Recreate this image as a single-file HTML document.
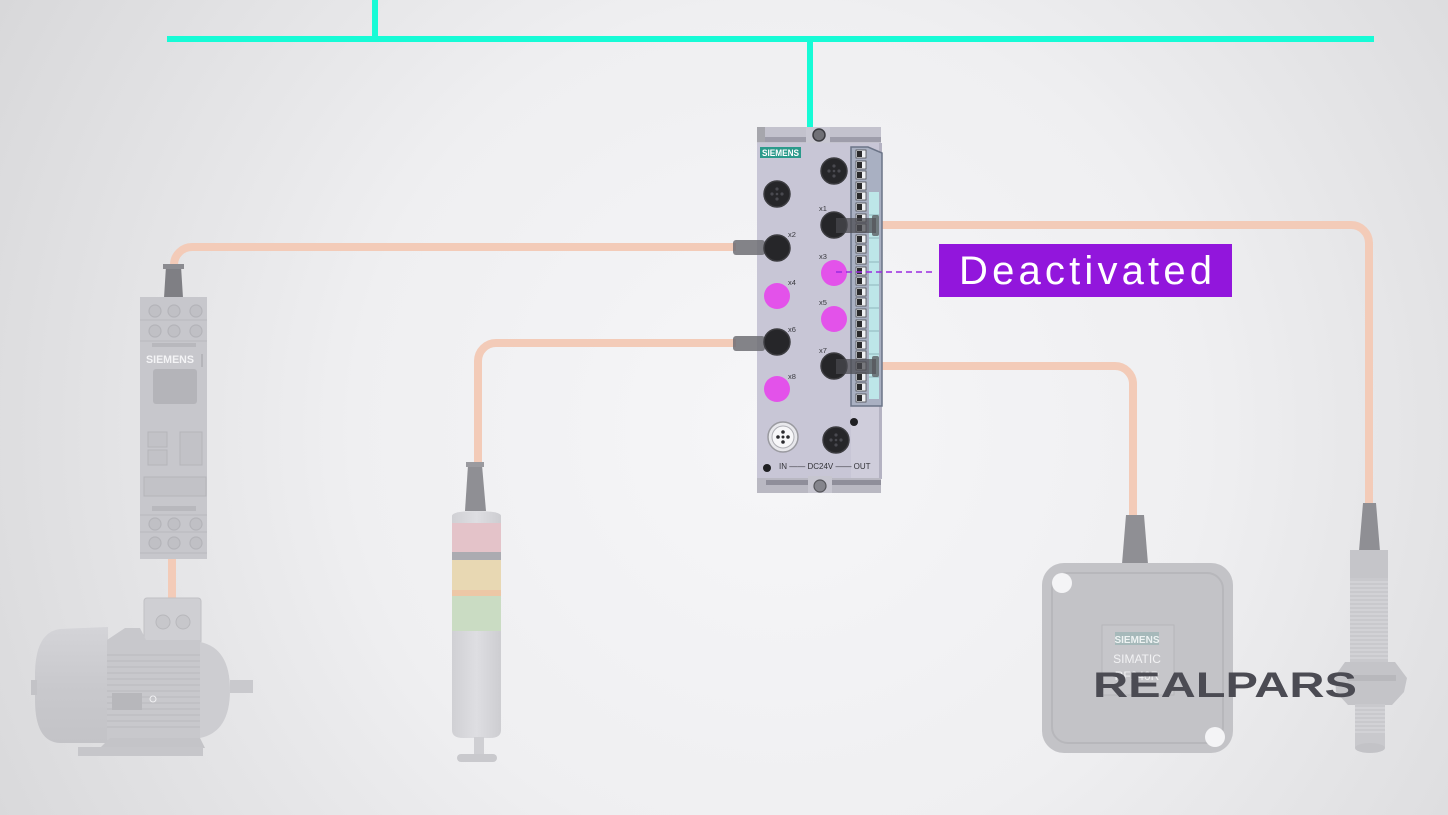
<!DOCTYPE html>
<html><head><meta charset="utf-8"><style>
html,body{margin:0;padding:0;width:1448px;height:815px;overflow:hidden;background:#e8e8ea}
svg{display:block}
text{font-family:"Liberation Sans",sans-serif}
</style></head><body>
<svg width="1448" height="815" viewBox="0 0 1448 815" xmlns="http://www.w3.org/2000/svg">
<defs>
<radialGradient id="bg" gradientUnits="userSpaceOnUse" cx="780" cy="430" r="950">
<stop offset="0" stop-color="#f6f6f8"/>
<stop offset="0.45" stop-color="#efeff1"/>
<stop offset="1" stop-color="#d5d5d7"/>
</radialGradient>
<linearGradient id="motorG" x1="0" y1="0" x2="0" y2="1">
<stop offset="0" stop-color="#d4d4d8"/><stop offset="0.5" stop-color="#c9c9cd"/><stop offset="1" stop-color="#c3c3c7"/>
</linearGradient>
<linearGradient id="colG" x1="0" y1="0" x2="1" y2="0">
<stop offset="0" stop-color="#d0d0d4"/><stop offset="0.5" stop-color="#dedee2"/><stop offset="1" stop-color="#cdcdd1"/>
</linearGradient>
</defs>
<rect width="1448" height="815" fill="url(#bg)"/>

<!-- teal bus -->
<rect x="167" y="36" width="1207" height="6" fill="#17fbd6"/>
<rect x="372" y="0" width="6" height="40" fill="#17fbd6"/>
<rect x="807" y="40" width="6" height="92" fill="#17fbd6"/>

<!-- cables -->
<g fill="none" stroke="#f3cbb8" stroke-width="8">
<path d="M736 247 H192 A18 18 0 0 0 174 265 V270"/>
<path d="M736 343 H496 A18 18 0 0 0 478 361 V466"/>
<path d="M876 225 H1351 A18 18 0 0 1 1369 243 V506"/>
<path d="M876 366 H1115 A18 18 0 0 1 1133 384 V518"/>
<path d="M172 556 V602"/>
</g>

<!-- ===== Motor starter ===== -->
<polygon points="166,266 181,266 183,298 164,298" fill="#7f7f84"/>
<rect x="163" y="264" width="21" height="5" fill="#8b8b90"/>
<rect x="140" y="297" width="67" height="262" fill="#c7c7cc"/>
<g stroke="#b9b9be" stroke-width="1" fill="none">
<line x1="140" y1="320" x2="207" y2="320"/>
<line x1="140" y1="341" x2="207" y2="341"/>
<line x1="140" y1="515" x2="207" y2="515"/>
<line x1="140" y1="532" x2="207" y2="532"/>
<line x1="140" y1="553" x2="207" y2="553"/>
</g>
<g fill="#c0c0c5" stroke="#b4b4b9" stroke-width="1.2">
<circle cx="155" cy="311" r="6"/><circle cx="174" cy="311" r="6"/><circle cx="196" cy="311" r="6"/>
<circle cx="155" cy="331" r="6"/><circle cx="174" cy="331" r="6"/><circle cx="196" cy="331" r="6"/>
<circle cx="155" cy="524" r="6"/><circle cx="174" cy="524" r="6"/><circle cx="196" cy="524" r="6"/>
<circle cx="155" cy="543" r="6"/><circle cx="174" cy="543" r="6"/><circle cx="196" cy="543" r="6"/>
</g>
<rect x="152" y="343" width="44" height="4" fill="#b8b8bd"/>
<text x="146" y="363" font-size="11" font-weight="bold" fill="#f4f4f6" textLength="48" lengthAdjust="spacingAndGlyphs">SIEMENS</text>
<rect x="201" y="354" width="2" height="13" fill="#b5b5ba"/>
<rect x="153" y="369" width="44" height="35" rx="3" fill="#b4b4b9"/>
<g fill="#c2c2c7" stroke="#b5b5ba" stroke-width="1">
<rect x="148" y="432" width="19" height="15"/>
<rect x="148" y="450" width="19" height="15"/>
<rect x="180" y="432" width="22" height="33"/>
<rect x="144" y="477" width="62" height="19"/>
</g>
<rect x="152" y="506" width="44" height="5" fill="#b8b8bd"/>

<!-- ===== Motor ===== -->
<rect x="144" y="598" width="57" height="46" rx="3" fill="#cfcfd3" stroke="#c0c0c4"/>
<circle cx="163" cy="622" r="7" fill="#c7c7cb" stroke="#b8b8bc"/>
<circle cx="183" cy="622" r="7" fill="#c7c7cb" stroke="#b8b8bc"/>
<path d="M60 629 L108 627 L108 743 L60 743 Q35 742 35 700 L35 672 Q36 632 60 629Z" fill="url(#motorG)"/>
<rect x="31" y="680" width="6" height="15" fill="#c3c3c7"/>
<path d="M107 640 L125 628 L140 628 L146 640 L200 640 L200 740 L107 740 Z" fill="#c8c8cc"/>
<path d="M200 642 Q230 648 230 690 Q230 732 200 738 Z" fill="#cdcdd1"/>
<rect x="230" y="680" width="23" height="13" fill="#c9c9cd"/>
<g stroke="#bababe" stroke-width="1">
<line x1="107" y1="655" x2="200" y2="655"/><line x1="107" y1="661" x2="200" y2="661"/>
<line x1="107" y1="667" x2="200" y2="667"/><line x1="107" y1="673" x2="200" y2="673"/>
<line x1="107" y1="679" x2="200" y2="679"/><line x1="107" y1="685" x2="200" y2="685"/>
<line x1="107" y1="691" x2="200" y2="691"/><line x1="107" y1="697" x2="200" y2="697"/>
<line x1="107" y1="703" x2="200" y2="703"/><line x1="107" y1="709" x2="200" y2="709"/>
<line x1="107" y1="715" x2="200" y2="715"/><line x1="107" y1="721" x2="200" y2="721"/>
<line x1="107" y1="727" x2="200" y2="727"/>
</g>
<rect x="112" y="693" width="30" height="17" fill="#b7b7bb"/>
<circle cx="153" cy="699" r="3" fill="none" stroke="#f0f0f2"/>
<polygon points="110,738 200,738 205,748 100,748" fill="#c4c4c8"/>
<rect x="78" y="747" width="125" height="9" fill="#c6c6ca"/>

<!-- ===== Stack light ===== -->
<polygon points="468,465 482,465 486,511 465,511" fill="#8f8f94"/>
<rect x="466" y="462" width="18" height="5" fill="#9a9a9f"/>
<path d="M452 516 Q452 511 476 511 Q501 511 501 516 L501 730 Q501 738 490 738 L463 738 Q452 738 452 730 Z" fill="url(#colG)"/>
<rect x="452" y="523" width="49" height="30" fill="#e4c3c9"/>
<rect x="452" y="552" width="49" height="8" fill="#ababb1"/>
<rect x="452" y="560" width="49" height="36" fill="#e8d8b3"/>
<rect x="452" y="590" width="49" height="6" fill="#edc7a6"/>
<rect x="452" y="596" width="49" height="35" fill="#cadcc3"/>
<rect x="474" y="737" width="10" height="19" fill="#cfcfd3"/>
<rect x="457" y="754" width="40" height="8" rx="4" fill="#c9c9cd"/>

<!-- ===== RFID reader ===== -->
<polygon points="1126,515 1144,515 1148,564 1122,564" fill="#8f8f94"/>
<rect x="1042" y="563" width="191" height="190" rx="22" fill="#c3c3c7"/>
<rect x="1052" y="573" width="171" height="170" rx="16" fill="none" stroke="#b7b7bb" stroke-width="2"/>
<circle cx="1062" cy="583" r="10" fill="#f4f4f6"/>
<circle cx="1215" cy="737" r="10" fill="#f4f4f6"/>
<rect x="1102" y="625" width="72" height="70" fill="#c6c6ca" stroke="#b6b6ba"/>
<rect x="1115" y="632" width="44" height="13" fill="#a6b9ba"/>
<text x="1137" y="643" font-size="10" font-weight="bold" fill="#eef3f3" text-anchor="middle">SIEMENS</text>
<text x="1137" y="663" font-size="12" fill="#f2f2f4" text-anchor="middle">SIMATIC</text>
<text x="1137" y="680" font-size="12" fill="#f2f2f4" text-anchor="middle">RF240R</text>

<!-- ===== Sensor ===== -->
<polygon points="1363,503 1376,503 1380,551 1359,551" fill="#8f8f94"/>
<rect x="1350" y="550" width="38" height="30" fill="#c5c5c9"/>
<rect x="1350" y="578" width="38" height="86" fill="#c9c9cd"/>
<g stroke="#dcdce0" stroke-width="1">
<line x1="1350" y1="582" x2="1388" y2="582"/><line x1="1350" y1="586" x2="1388" y2="586"/>
<line x1="1350" y1="590" x2="1388" y2="590"/><line x1="1350" y1="594" x2="1388" y2="594"/>
<line x1="1350" y1="598" x2="1388" y2="598"/><line x1="1350" y1="602" x2="1388" y2="602"/>
<line x1="1350" y1="606" x2="1388" y2="606"/><line x1="1350" y1="610" x2="1388" y2="610"/>
<line x1="1350" y1="614" x2="1388" y2="614"/><line x1="1350" y1="618" x2="1388" y2="618"/>
<line x1="1350" y1="622" x2="1388" y2="622"/><line x1="1350" y1="626" x2="1388" y2="626"/>
<line x1="1350" y1="630" x2="1388" y2="630"/><line x1="1350" y1="634" x2="1388" y2="634"/>
<line x1="1350" y1="638" x2="1388" y2="638"/><line x1="1350" y1="642" x2="1388" y2="642"/>
<line x1="1350" y1="646" x2="1388" y2="646"/><line x1="1350" y1="650" x2="1388" y2="650"/>
<line x1="1350" y1="654" x2="1388" y2="654"/><line x1="1350" y1="658" x2="1388" y2="658"/>
</g>
<polygon points="1345,662 1395,662 1407,678 1404,692 1392,705 1348,705 1336,692 1335,676" fill="#c4c4c8"/>
<rect x="1348" y="675" width="48" height="6" fill="#b8b8bc"/>
<rect x="1355" y="704" width="30" height="44" fill="#c9c9cd"/>
<g stroke="#dcdce0" stroke-width="1">
<line x1="1355" y1="708" x2="1385" y2="708"/><line x1="1355" y1="712" x2="1385" y2="712"/>
<line x1="1355" y1="716" x2="1385" y2="716"/><line x1="1355" y1="720" x2="1385" y2="720"/>
<line x1="1355" y1="724" x2="1385" y2="724"/><line x1="1355" y1="728" x2="1385" y2="728"/>
<line x1="1355" y1="732" x2="1385" y2="732"/>
</g>
<ellipse cx="1370" cy="748" rx="15" ry="5" fill="#c3c3c7"/>

<!-- REALPARS logo -->
<text x="1093" y="697" font-size="35" font-weight="bold" fill="#4b4b53" textLength="264" lengthAdjust="spacingAndGlyphs">REALPARS</text>

<!-- ===== IO module ===== -->
<rect x="757" y="127" width="124" height="20" fill="#c3c2cd"/>
<rect x="757" y="127" width="8" height="15" fill="#a6a6ac"/>
<rect x="765" y="137" width="116" height="5" fill="#9e9daa"/>
<rect x="806" y="127" width="24" height="18" fill="#c9c8d3"/>
<circle cx="819" cy="135" r="6" fill="#707076" stroke="#3b3b40" stroke-width="1.5"/>
<rect x="757" y="143" width="125" height="336" fill="#c8c6d6"/>
<rect x="851" y="405" width="31" height="74" fill="#cfcddb"/>
<rect x="879" y="143" width="3" height="336" fill="#b4b2c2"/>
<rect x="760" y="147" width="41" height="11" fill="#2b9a8b"/>
<text x="762" y="156" font-size="9" font-weight="bold" fill="#ffffff" textLength="37" lengthAdjust="spacingAndGlyphs">SIEMENS</text>

<!-- terminal strip -->
<polygon points="851,147 868,147 882,153 882,406 851,406" fill="#a9b0c2" stroke="#6b7487" stroke-width="1.5"/>
<rect x="869" y="192" width="10" height="207" fill="#bde6e8"/>
<g stroke="#8fb7bb" stroke-width="1">
<line x1="869" y1="215" x2="879" y2="215"/><line x1="869" y1="238" x2="879" y2="238"/>
<line x1="869" y1="262" x2="879" y2="262"/><line x1="869" y1="285" x2="879" y2="285"/>
<line x1="869" y1="308" x2="879" y2="308"/><line x1="869" y1="331" x2="879" y2="331"/>
<line x1="869" y1="354" x2="879" y2="354"/><line x1="869" y1="377" x2="879" y2="377"/>
</g>
<g fill="#eef0f3" stroke="#4a4a50" stroke-width="0.8">
<rect x="856" y="150" width="10" height="8"/><rect x="856" y="161" width="10" height="8"/>
<rect x="856" y="171" width="10" height="8"/><rect x="856" y="182" width="10" height="8"/>
<rect x="856" y="192" width="10" height="8"/><rect x="856" y="203" width="10" height="8"/>
<rect x="856" y="214" width="10" height="8"/><rect x="856" y="224" width="10" height="8"/>
<rect x="856" y="235" width="10" height="8"/><rect x="856" y="245" width="10" height="8"/>
<rect x="856" y="256" width="10" height="8"/><rect x="856" y="267" width="10" height="8"/>
<rect x="856" y="277" width="10" height="8"/><rect x="856" y="288" width="10" height="8"/>
<rect x="856" y="298" width="10" height="8"/><rect x="856" y="309" width="10" height="8"/>
<rect x="856" y="320" width="10" height="8"/><rect x="856" y="330" width="10" height="8"/>
<rect x="856" y="341" width="10" height="8"/><rect x="856" y="351" width="10" height="8"/>
<rect x="856" y="362" width="10" height="8"/><rect x="856" y="373" width="10" height="8"/>
<rect x="856" y="383" width="10" height="8"/><rect x="856" y="394" width="10" height="8"/>
</g>
<g fill="#2a2a2c">
<rect x="857" y="151" width="5" height="6"/><rect x="857" y="162" width="5" height="6"/>
<rect x="857" y="172" width="5" height="6"/><rect x="857" y="183" width="5" height="6"/>
<rect x="857" y="193" width="5" height="6"/><rect x="857" y="204" width="5" height="6"/>
<rect x="857" y="215" width="5" height="6"/><rect x="857" y="225" width="5" height="6"/>
<rect x="857" y="236" width="5" height="6"/><rect x="857" y="246" width="5" height="6"/>
<rect x="857" y="257" width="5" height="6"/><rect x="857" y="268" width="5" height="6"/>
<rect x="857" y="278" width="5" height="6"/><rect x="857" y="289" width="5" height="6"/>
<rect x="857" y="299" width="5" height="6"/><rect x="857" y="310" width="5" height="6"/>
<rect x="857" y="321" width="5" height="6"/><rect x="857" y="331" width="5" height="6"/>
<rect x="857" y="342" width="5" height="6"/><rect x="857" y="352" width="5" height="6"/>
<rect x="857" y="363" width="5" height="6"/><rect x="857" y="374" width="5" height="6"/>
<rect x="857" y="384" width="5" height="6"/><rect x="857" y="395" width="5" height="6"/>
</g>

<!-- left plugs -->
<rect x="733" y="240" width="32" height="15" rx="3" fill="#6f6f74" opacity="0.85"/>
<rect x="733" y="336" width="32" height="15" rx="3" fill="#6f6f74" opacity="0.85"/>

<!-- connectors -->
<g fill="#262629" stroke="#3c3c40" stroke-width="1.5">
<circle cx="834" cy="171" r="13"/><circle cx="777" cy="194" r="13"/>
<circle cx="834" cy="225" r="13"/><circle cx="777" cy="248" r="13"/>
<circle cx="777" cy="342" r="13"/><circle cx="834" cy="366" r="13"/>
<circle cx="836" cy="440" r="13"/>
</g>
<g fill="#4a4a50">
<circle cx="834" cy="166" r="1.6"/><circle cx="829" cy="171" r="1.6"/><circle cx="839" cy="171" r="1.6"/><circle cx="834" cy="176" r="1.6"/><circle cx="834" cy="171" r="1.3"/>
<circle cx="777" cy="189" r="1.6"/><circle cx="772" cy="194" r="1.6"/><circle cx="782" cy="194" r="1.6"/><circle cx="777" cy="199" r="1.6"/><circle cx="777" cy="194" r="1.3"/>
<circle cx="836" cy="435" r="1.6"/><circle cx="831" cy="440" r="1.6"/><circle cx="841" cy="440" r="1.6"/><circle cx="836" cy="445" r="1.6"/><circle cx="836" cy="440" r="1.3"/>
</g>
<!-- pink deactivated ports -->
<g fill="#e352ea">
<circle cx="834" cy="273" r="13"/><circle cx="777" cy="296" r="13"/>
<circle cx="834" cy="319" r="13"/><circle cx="777" cy="389" r="13"/>
</g>
<!-- right plugs -->
<rect x="836" y="218" width="40" height="15" fill="#4a4a4f" opacity="0.72"/>
<rect x="872" y="215" width="7" height="21" rx="2" fill="#56565b" opacity="0.75"/>
<rect x="836" y="359" width="40" height="15" fill="#4a4a4f" opacity="0.72"/>
<rect x="872" y="356" width="7" height="21" rx="2" fill="#56565b" opacity="0.75"/>

<!-- IN connector -->
<circle cx="783" cy="437" r="15" fill="#e8e8ec" stroke="#9a9aa0" stroke-width="1.5"/>
<circle cx="783" cy="437" r="11" fill="#f7f7f9" stroke="#b0b0b6"/>
<g fill="#2a2a2e">
<circle cx="783" cy="432" r="1.8"/><circle cx="778" cy="437" r="1.8"/><circle cx="788" cy="437" r="1.8"/><circle cx="783" cy="442" r="1.8"/><circle cx="783" cy="437" r="1.5"/>
</g>
<circle cx="854" cy="422" r="4" fill="#1f1f22"/>
<circle cx="767" cy="468" r="4" fill="#1f1f22"/>
<text x="779" y="469" font-size="8" fill="#333338">IN —— DC24V —— OUT</text>

<!-- port labels -->
<g font-size="7.5" fill="#3a3a40">
<text x="819" y="211">x1</text><text x="788" y="237">x2</text>
<text x="819" y="259">x3</text><text x="788" y="285">x4</text>
<text x="819" y="305">x5</text><text x="788" y="332">x6</text>
<text x="819" y="353">x7</text><text x="788" y="379">x8</text>
</g>

<!-- bottom bracket -->
<rect x="757" y="478" width="124" height="15" fill="#b9b8c2"/>
<rect x="766" y="480" width="115" height="5" fill="#8f8e9a"/>
<rect x="808" y="476" width="24" height="17" fill="#c7c6d0"/>
<circle cx="820" cy="486" r="6" fill="#85858c" stroke="#55555a" stroke-width="1.2"/>

<!-- Deactivated callout -->
<line x1="836" y1="272" x2="936" y2="272" stroke="#9a2be0" stroke-width="1.5" stroke-dasharray="6 4"/>
<rect x="939" y="244" width="293" height="53" fill="#9216dc"/>
<text x="959" y="284" font-size="40" fill="#ffffff" textLength="253" lengthAdjust="spacing">Deactivated</text>
</svg>
</body></html>
